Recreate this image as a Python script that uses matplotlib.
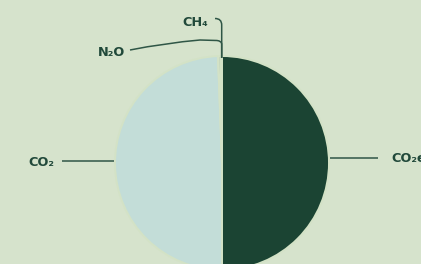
import matplotlib
matplotlib.use("Agg")
import matplotlib.pyplot as plt
import numpy as np
from matplotlib.path import Path
from matplotlib.patches import PathPatch

# Data
labels = ["CO₂e", "CO₂", "N₂O", "CH₄"]
values = [50.0, 49.4, 0.35, 0.25]
colors = ["#1b4433", "#c3ddd8", "#7f9488", "#5b6e63"]

BG = "#d6e3cc"
INK = "#21493a"
LINE = "#2f5646"

W, H = 421, 264
fig = plt.figure(figsize=(W / 100, H / 100), dpi=100, facecolor=BG)
ax = fig.add_axes([0, 0, 1, 1])
ax.set_facecolor(BG)

cx, cy, r = 222, 264 - 163, 107
ax.pie(values, colors=colors, startangle=90, counterclock=False,
       center=(cx, cy), radius=r,
       wedgeprops=dict(linewidth=1.4, edgecolor="#d3e2c6"))
ax.set_xlim(0, W)
ax.set_ylim(0, H)
ax.set_aspect("equal")
ax.axis("off")

def py(y):
    return H - y

lw = 1.1
# CO2 leader
ax.plot([62, 114], [py(160.5), py(160.5)], color=LINE, lw=lw, solid_capstyle="butt")
# CO2e leader
ax.plot([330, 378], [py(158), py(158)], color=LINE, lw=lw, solid_capstyle="butt")

# N2O leader (curved)
verts = [(130, 50), (165, 43), (200, 40), (217, 40.5), (221.5, 41), (221.7, 44), (221.7, 58)]
codes = [Path.MOVETO, Path.CURVE3, Path.CURVE3, Path.LINETO, Path.CURVE3, Path.CURVE3, Path.LINETO]
verts = [(x, py(y)) for x, y in verts]
ax.add_patch(PathPatch(Path(verts, codes), fill=False, edgecolor=LINE, lw=lw))
# CH4 leader
verts = [(215, 18.5), (221.7, 18.5), (221.7, 25), (221.7, 58)]
codes = [Path.MOVETO, Path.CURVE3, Path.CURVE3, Path.LINETO]
verts = [(x, py(y)) for x, y in verts]
ax.add_patch(PathPatch(Path(verts, codes), fill=False, edgecolor=LINE, lw=lw))

fp = dict(color=INK, fontsize=9.3, fontweight="bold", family="DejaVu Sans")
ax.text(41.5, py(162.5), labels[1], ha="center", va="center", **fp)
ax.text(391, py(158.5), labels[0], ha="left", va="center", **fp)
ax.text(111.5, py(53), labels[2], ha="center", va="center", **fp)
ax.text(195.5, py(22.5), labels[3], ha="center", va="center", **fp)

fig.savefig("out.png", dpi=100, facecolor=BG)
